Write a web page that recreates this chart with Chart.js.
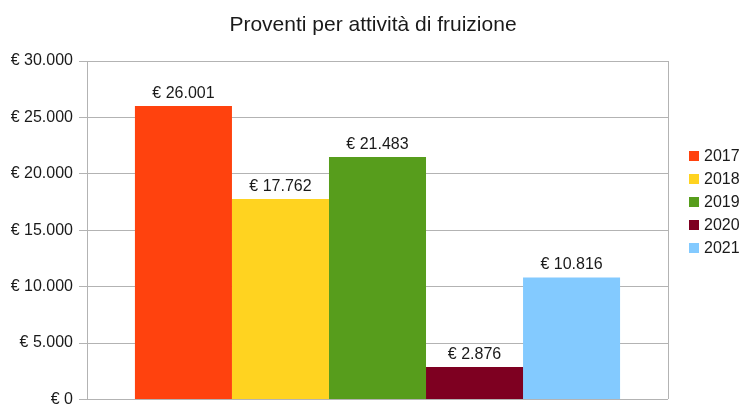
<!DOCTYPE html>
<html>
<head>
<meta charset="utf-8">
<script src="https://cdn.jsdelivr.net/npm/chart.js@4/dist/chart.umd.min.js"></script>
<style>
  html, body { margin: 0; padding: 0; background: #fff; overflow: hidden; }
  #wrap { width: 740px; height: 404px; overflow: hidden; }
</style>
</head>
<body>
<div id="wrap"><canvas id="chart" width="740" height="415"></canvas></div>
<script>
// Chart data
const chartTitle = 'Proventi per attività di fruizione';
const years = ['2017', '2018', '2019', '2020', '2021'];
const proventi = [26001, 17762, 21483, 2876, 10816];
const yearColors = ['#ff420e', '#ffd320', '#579d1c', '#7e0021', '#83caff'];
const yTicks = [0, 5000, 10000, 15000, 20000, 25000, 30000];

const FONT = "'Liberation Sans', Arial, sans-serif";
const TEXT_COLOR = '#1a1a1a';

function fmtEuro(v) {
  // thousands separator with dot
  const s = Math.round(v).toString().replace(/\B(?=(\d{3})+(?!\d))/g, '.');
  return '€ ' + s;
}

// Title centred on the whole page width (the built-in one centres on the padded box)
const pageTitle = {
  id: 'pageTitle',
  afterDraw(chart) {
    const ctx = chart.ctx;
    ctx.save();
    ctx.font = '21px ' + FONT;
    ctx.fillStyle = TEXT_COLOR;
    ctx.textAlign = 'center';
    ctx.textBaseline = 'alphabetic';
    ctx.fillText(chartTitle, 373, 31);
    ctx.restore();
  }
};

// Value labels above each bar
const valueLabels = {
  id: 'valueLabels',
  afterDatasetsDraw(chart) {
    const ctx = chart.ctx;
    ctx.save();
    ctx.font = '16px ' + FONT;
    ctx.fillStyle = TEXT_COLOR;
    ctx.textAlign = 'center';
    ctx.textBaseline = 'alphabetic';
    chart.data.datasets.forEach((ds, i) => {
      const meta = chart.getDatasetMeta(i);
      meta.data.forEach((bar, j) => {
        ctx.fillText(fmtEuro(ds.data[j]), bar.x, bar.y - 8);
      });
    });
    ctx.restore();
  }
};

// Legend on the right, centred on the visible height
const sideLegend = {
  id: 'sideLegend',
  afterDraw(chart) {
    const ctx = chart.ctx;
    const step = 23;
    const n = chart.data.datasets.length;
    const x0 = chart.chartArea.right + 21;
    const y0 = 404 / 2 - (n - 1) * step / 2;
    ctx.save();
    ctx.font = '16px ' + FONT;
    ctx.textAlign = 'left';
    ctx.textBaseline = 'middle';
    chart.data.datasets.forEach((ds, i) => {
      const y = y0 + i * step;
      ctx.fillStyle = ds.backgroundColor;
      ctx.fillRect(x0, y - 5, 10, 10);
      ctx.fillStyle = TEXT_COLOR;
      ctx.fillText(ds.label, x0 + 15, y + 1);
    });
    ctx.restore();
  }
};

const datasets = years.map((year, idx) => ({
  label: year,
  data: [proventi[idx]],
  backgroundColor: yearColors[idx],
  borderWidth: 0,
  categoryPercentage: 0.835,
  barPercentage: 1.0
}));

new Chart(document.getElementById('chart'), {
  type: 'bar',
  data: {
    labels: [''],
    datasets: datasets
  },
  options: {
    responsive: false,
    animation: false,
    layout: {
      padding: { left: 0, right: 72, top: 61, bottom: 0 }
    },
    plugins: {
      legend: { display: false },
      tooltip: { enabled: false },
      title: { display: false }
    },
    scales: {
      x: {
        ticks: { display: false },
        grid: { color: '#b3b3b3', drawTicks: false, offset: true },
        border: { display: false }
      },
      y: {
        min: 0,
        max: 30000,
        afterFit(scale) { scale.width = 87; },
        afterBuildTicks(scale) { scale.ticks = yTicks.map(v => ({ value: v })); },
        ticks: {
          color: TEXT_COLOR,
          padding: 6,
          font: { family: FONT, size: 16 },
          callback: v => fmtEuro(v)
        },
        grid: { color: '#b3b3b3', tickLength: 8 },
        border: { color: '#b3b3b3' }
      }
    }
  },
  plugins: [valueLabels, sideLegend, pageTitle]
});
</script>
</body>
</html>
